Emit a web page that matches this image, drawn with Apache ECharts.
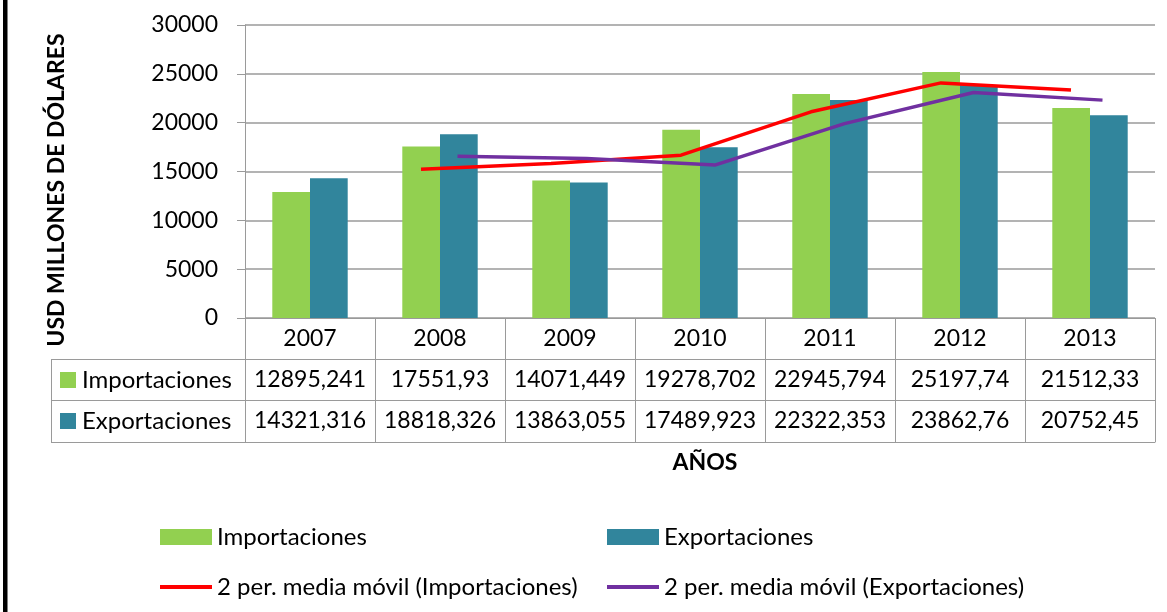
<!DOCTYPE html>
<html><head><meta charset="utf-8">
<script src="https://cdn.jsdelivr.net/npm/echarts@6/dist/echarts.min.js"></script>
<style>html,body{margin:0;padding:0;background:#fff}#c{width:1167px;height:612px}</style>
</head><body><div id="c"></div>
<script>
const years = ['2007','2008','2009','2010','2011','2012','2013'];
const importaciones = [12895.241, 17551.93, 14071.449, 19278.702, 22945.794, 25197.74, 21512.33];
const exportaciones = [14321.316, 18818.326, 13863.055, 17489.923, 22322.353, 23862.76, 20752.45];
const mediaImport = [null, 15224, 15812, 16675, 21112, 24072, 23355];
const mediaExport = [null, 16570, 16341, 15676, 19906, 23093, 22308];
const yTicks = [0, 5000, 10000, 15000, 20000, 25000, 30000];

const FONT = 'Lato';
const FS = 23;
const FT = 24;
const GRAY = '#9a9a9a';
const GREEN = '#92D050', TEAL = '#31859C', RED = '#FF0000', PURPLE = '#7030A0';
const fmt = v => String(v).replace('.', ',');

const chart = echarts.init(document.getElementById('c'), null, {renderer:'canvas'});
const gl = {left:245, right:12, top:25, bottom:294};
const hidden = {show:false};
const legendText = {fontFamily:FONT, fontSize:FT, color:'#000'};
chart.setOption({
  animation:false,
  textStyle:{fontFamily:FONT},
  grid:[
    Object.assign({}, gl),
    Object.assign({}, gl, {left:226, right:31}),
    Object.assign({}, gl, {left:264, right:-7})
  ],
  xAxis:[
    {type:'category', data:years, gridIndex:0, position:'bottom',
     axisLine:{lineStyle:{color:GRAY, width:1}},
     axisTick:{show:true, length:124, inside:false, interval:0, lineStyle:{color:GRAY}},
     axisLabel:{fontFamily:FONT, fontSize:FS, color:'#000', margin:9, interval:0}},
    {type:'category', data:importaciones.map(fmt), gridIndex:0, position:'bottom', offset:41,
     axisLine:{lineStyle:{color:GRAY}}, axisTick:hidden,
     axisLabel:{fontFamily:FONT, fontSize:FS, color:'#000', margin:9, interval:0}},
    {type:'category', data:exportaciones.map(fmt), gridIndex:0, position:'bottom', offset:82,
     axisLine:{lineStyle:{color:GRAY}}, axisTick:hidden,
     axisLabel:{fontFamily:FONT, fontSize:FS, color:'#000', margin:9, interval:0}},
    {type:'category', data:years, gridIndex:0, position:'bottom', offset:124,
     axisLine:{lineStyle:{color:GRAY}}, axisTick:hidden, axisLabel:hidden,
     name:'AÑOS', nameLocation:'middle', nameGap:9,
     nameTextStyle:{fontFamily:FONT, fontSize:23, fontWeight:'bold', color:'#000', padding:[0,0,0,10]}},
    {type:'category', data:years, gridIndex:1, show:false},
    {type:'category', data:years, gridIndex:2, show:false}
  ],
  yAxis:[
    {type:'value', gridIndex:0, min:yTicks[0], max:yTicks[yTicks.length-1], interval:yTicks[1]-yTicks[0],
     axisLine:{show:true, lineStyle:{color:GRAY}},
     axisTick:{show:true, length:8, lineStyle:{color:GRAY}},
     splitLine:{lineStyle:{color:GRAY, width:1.5}},
     axisLabel:{fontFamily:FONT, fontSize:FS, color:'#000', margin:27, formatter:v => String(v)}},
    {type:'value', gridIndex:1, min:0, max:30000, show:false},
    {type:'value', gridIndex:2, min:0, max:30000, show:false}
  ],
  legend:[
    {data:['Importaciones'], left:155, top:520, itemWidth:52, itemHeight:16, icon:'rect', textStyle:legendText},
    {data:['Exportaciones'], left:602, top:520, itemWidth:52, itemHeight:16, icon:'rect', textStyle:legendText},
    {data:['2 per. media móvil (Importaciones)'], left:155, top:570, itemWidth:52, itemHeight:4, icon:'rect', textStyle:legendText},
    {data:['2 per. media móvil (Exportaciones)'], left:602, top:570, itemWidth:52, itemHeight:4, icon:'rect', textStyle:legendText}
  ],
  series:[
    {name:'Importaciones', type:'bar', data:importaciones, xAxisIndex:0, yAxisIndex:0,
     itemStyle:{color:GREEN}, barGap:'0%', barCategoryGap:'42%'},
    {name:'Exportaciones', type:'bar', data:exportaciones, xAxisIndex:0, yAxisIndex:0,
     itemStyle:{color:TEAL}, barGap:'0%', barCategoryGap:'42%'},
    {name:'2 per. media móvil (Importaciones)', type:'line', data:mediaImport, xAxisIndex:4, yAxisIndex:1,
     showSymbol:false, symbol:'none', lineStyle:{color:RED, width:3.5}, itemStyle:{color:RED}},
    {name:'2 per. media móvil (Exportaciones)', type:'line', data:mediaExport, xAxisIndex:5, yAxisIndex:2,
     showSymbol:false, symbol:'none', lineStyle:{color:PURPLE, width:3.5}, itemStyle:{color:PURPLE}}
  ],
  graphic:[
    {type:'rect', shape:{x:3, y:0, width:4.5, height:612}, style:{fill:'#000'}},
    {type:'text', x:57, y:190, rotation:Math.PI/2,
     style:{text:'USD MILLONES DE DÓLARES', fontFamily:FONT, fontSize:23, fontWeight:'bold', fill:'#000', align:'center', verticalAlign:'middle'}},
    {type:'line', shape:{x1:51, y1:359.5, x2:245, y2:359.5}, style:{stroke:GRAY, lineWidth:1}},
    {type:'line', shape:{x1:51, y1:400.5, x2:245, y2:400.5}, style:{stroke:GRAY, lineWidth:1}},
    {type:'line', shape:{x1:51, y1:442.5, x2:245, y2:442.5}, style:{stroke:GRAY, lineWidth:1}},
    {type:'line', shape:{x1:51.5, y1:359, x2:51.5, y2:443}, style:{stroke:GRAY, lineWidth:1}},
    {type:'rect', shape:{x:60, y:372, width:16, height:16}, style:{fill:GREEN}},
    {type:'rect', shape:{x:60, y:413, width:16, height:16}, style:{fill:TEAL}},
    {type:'text', x:82, y:380, style:{text:'Importaciones', fontFamily:FONT, fontSize:FT, fill:'#000', verticalAlign:'middle'}},
    {type:'text', x:82, y:421, style:{text:'Exportaciones', fontFamily:FONT, fontSize:FT, fill:'#000', verticalAlign:'middle'}}
  ]
});
</script></body></html>
